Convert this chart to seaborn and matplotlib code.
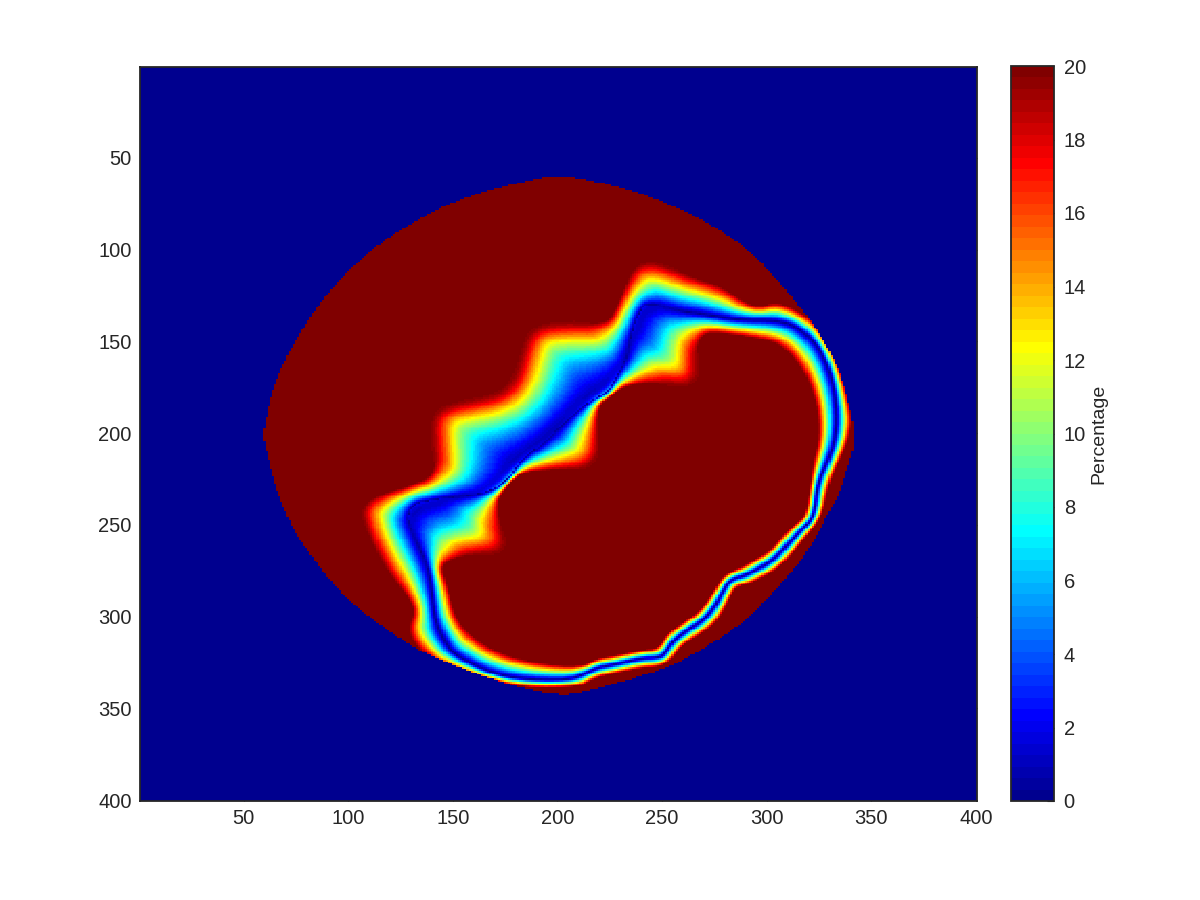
import numpy as np
import matplotlib
matplotlib.use("Agg")
import matplotlib.pyplot as plt
from matplotlib.colors import LinearSegmentedColormap
from matplotlib.path import Path
import seaborn as sns

# Contours, in image coordinates (column, row)
disc_x = [199.6, 218.7, 237.9, 260.2, 276.1, 292, 307.9, 322.3, 333.4, 339, 342.2, 341.4, 338.2, 335, 328.7, 319, 307.9, 290.4, 271.3, 255.4, 239.5, 212.2, 199.7, 174.2, 139.1, 118.4, 100.9, 91.3, 83.3, 75.4, 70.6, 66.6, 63.4, 61, 59.4, 61, 64.2, 69.8, 77, 85, 94.5, 105.6, 120, 134.3, 148.7, 164.6, 180.5]
disc_y = [59.4, 63, 68.4, 78.4, 88.4, 100.2, 120.2, 140.2, 162, 182, 200, 209.2, 220, 232.8, 245.5, 265.5, 281, 301.9, 316.4, 326.4, 332.7, 341.1, 342.7, 336.4, 321.8, 307.3, 291.9, 280, 268.3, 255.6, 244.6, 233.7, 221, 210, 201, 191, 174.7, 160.2, 145.7, 131.1, 118.4, 104.8, 93, 83, 74.8, 68.4, 63.9]

outer_x = [141.5, 141.5, 141.5, 151.8, 172.5, 180.5, 184.5, 188.5, 206, 223.5, 228.3, 234.7, 239.5, 249, 263.3, 279.3, 293.6, 304.8, 312.7, 322.1, 328.8, 335, 341, 340, 338, 335, 329.9, 326.7, 319.1, 314.6, 308.3, 302.4, 292.8, 285.6, 283.3, 279.3, 274.8, 266.9, 258.9, 254.6, 249, 239.5, 228.4, 220.3, 215.5, 210.8, 183.5, 164.4, 148.6, 139.1, 131.9, 128.3, 131.9, 128.7, 120, 112.8, 108, 106.4, 113.6, 127.9]
outer_y = [222.8, 203.8, 189.3, 184.7, 180.2, 171.1, 154.7, 142.9, 140.6, 140.2, 131.1, 113, 107.5, 107.5, 114.8, 120.2, 132, 128.4, 132, 138.4, 149.3, 164, 190, 200, 207, 214.6, 227.4, 245.5, 256.1, 262.8, 271, 276.1, 281.9, 283.7, 288.2, 297.3, 304.6, 310.6, 316.4, 323.6, 327.3, 328.2, 330.8, 332.8, 335, 338.4, 338.9, 333.5, 327.5, 322.8, 315.5, 306.4, 297.3, 290, 277.4, 262.8, 250, 241, 233.7, 229.2]

inner_x = [183.5, 205, 212.2, 219.4, 219.5, 219.5, 225.1, 234.7, 258, 264.9, 266, 266.5, 270.5, 285.6, 300, 308, 317.5, 323.9, 325.1, 322.3, 320.7, 318.6, 312.7, 307.9, 301.6, 296, 288, 279.3, 275.3, 271.3, 266.5, 260.2, 252.2, 248.2, 239.5, 228.4, 218.9, 210.8, 190.2, 172.5, 159.6, 151, 147.7, 144, 153.4, 165, 174, 173.8, 173.5, 171.1, 174, 178.8]
inner_y = [221.2, 219.6, 219.6, 213.1, 203.8, 185.6, 180.2, 172.9, 173, 172.9, 165, 152.9, 144.7, 146.6, 149.3, 153, 165.6, 183.8, 202, 214.6, 227.4, 245.5, 250.1, 255.5, 263.7, 267.7, 272.8, 277.3, 284.6, 291.9, 298.2, 302.8, 309.1, 317.3, 318.2, 320.9, 322.6, 327.5, 325.3, 319.9, 311.2, 300.3, 283.9, 271.5, 267.5, 265, 263.7, 258, 254.5, 238.1, 232.1, 225.6]

lane_x = [182.1, 195, 202.7, 215.6, 223.5, 228.3, 233.1, 235.5, 239.5, 244.2, 257, 268.1, 285.6, 304.8, 314.3, 323.9, 330.2, 333.4, 333.1, 329.5, 324.2, 322.6, 317.5, 311.1, 304.8, 299.2, 290.4, 282.5, 279.3, 275.3, 270.5, 263.4, 255.4, 251.4, 249, 239.5, 228.4, 220.3, 214.1, 206, 180.7, 164.4, 150.1, 147.1, 141.5, 139.9, 138.3, 132.7, 128, 131.1, 137.7, 150, 164.4, 171.1, 177.3]
lane_y = [214.7, 203.8, 194.5, 182, 178.4, 169.3, 158.4, 145.6, 132.9, 129.3, 133, 134.8, 138.4, 138.4, 142, 151.1, 165.6, 183.8, 202, 214.6, 227.4, 245.5, 251.9, 259.2, 267.3, 271.9, 277.3, 280.1, 285.5, 294.6, 301, 306.4, 312.8, 320, 322.2, 322.7, 325.9, 327.5, 330.5, 334.6, 334, 329.1, 319.9, 315.5, 302.8, 286.4, 273.7, 259.2, 246.5, 239.2, 237, 235, 232.7, 229.4, 224]

tick_values = [50, 100, 150, 200, 250, 300, 350, 400]
colorbar_ticks = [0, 2, 4, 6, 8, 10, 12, 14, 16, 18, 20]
v_min, v_max = 0, 20
n_cells = 400

plt.rcParams["font.family"] = ["Liberation Sans", "DejaVu Sans"]
sns.set_style("white")
plt.rcParams["font.family"] = ["Liberation Sans", "DejaVu Sans"]


def closed(xs, ys, rounds=2):
    """Closed contour with its traced corners rounded off."""
    p = np.column_stack([xs, ys])
    for _ in range(rounds):
        q = np.roll(p, -1, axis=0)
        p = np.column_stack([0.75 * p + 0.25 * q, 0.25 * p + 0.75 * q]).reshape(-1, 2)
    return np.vstack([p, p[:1]])


def distance_to(curve, pts):
    best = np.full(len(pts), np.inf)
    for a, b in zip(curve[:-1], curve[1:]):
        ab = b - a
        t = np.clip(((pts - a) @ ab) / (ab @ ab), 0, 1)
        d = np.hypot(*(pts - a - t[:, None] * ab).T)
        best = np.minimum(best, d)
    return best


def soften(field):
    kernel = np.exp(-0.5 * (np.arange(-6, 7) / 2.5) ** 2)
    kernel /= kernel.sum()
    out = np.apply_along_axis(np.convolve, 0, field, kernel, mode="same")
    return np.apply_along_axis(np.convolve, 1, out, kernel, mode="same")


disc, outer, inner, lane = (closed(disc_x, disc_y, 1), closed(outer_x, outer_y),
                            closed(inner_x, inner_y), closed(lane_x, lane_y))
cols, rows = np.meshgrid(np.arange(1, n_cells + 1), np.arange(1, n_cells + 1))
pts = np.column_stack([cols.ravel(), rows.ravel()]).astype(float)

in_disc = Path(disc).contains_points(pts)
in_outer = Path(outer).contains_points(pts)
in_inner = Path(inner).contains_points(pts)
in_lane = Path(lane).contains_points(pts)

d_lane = distance_to(lane, pts)
d_edge = np.where(in_lane, distance_to(inner, pts), distance_to(outer, pts))
width = d_lane + d_edge
steep = 1 + np.clip(width - 25, 0, None) / 12
share = d_lane / (d_lane + steep * d_edge + 1e-9)
field = v_max * np.where(in_outer & ~in_inner, share, 1.0)
field = field.reshape(n_cells, n_cells)
blend = np.clip((width.reshape(n_cells, n_cells) - 15) / 15, 0, 1)
padded = soften(np.pad(field, 6, constant_values=v_max))[6:-6, 6:-6]
field = blend * padded + (1 - blend) * field
values = np.where(in_disc.reshape(n_cells, n_cells), field, v_min)

jet = LinearSegmentedColormap.from_list(
    "matlab_jet",
    [(0, (0, 0, 0.5625)), (7 / 63, (0, 0, 1)), (23 / 63, (0, 1, 1)),
     (39 / 63, (1, 1, 0)), (55 / 63, (1, 0, 0)), (1, (0.5, 0, 0))],
    N=64,
)

fig = plt.figure(figsize=(12, 9), dpi=100)
W, H = 1200, 900
ax = fig.add_axes([140 / W, 1 - 801 / H, 837 / W, 734 / H])
cax = fig.add_axes([1011 / W, 1 - 801 / H, 43 / W, 735 / H])

sns.heatmap(values, ax=ax, cbar_ax=cax, cmap=jet, vmin=v_min, vmax=v_max,
            xticklabels=False, yticklabels=False,
            cbar_kws={"ticks": colorbar_ticks})

dark = "#262626"
positions = [v - 0.5 for v in tick_values]
ax.set_xticks(positions)
ax.set_xticklabels(tick_values)
ax.set_yticks(positions)
ax.set_yticklabels(tick_values, rotation=0)
ax.tick_params(axis="both", direction="in", length=5, width=0.8, color=dark,
               labelcolor=dark, labelsize=14.5, top=True, right=True,
               bottom=True, left=True, pad=6)
for s in ax.spines.values():
    s.set_visible(True)
    s.set_color(dark)
    s.set_linewidth(1.3)

cbar = ax.collections[0].colorbar
cbar.outline.set_visible(True)
cbar.outline.set_edgecolor(dark)
cbar.outline.set_linewidth(1.3)
cax.tick_params(axis="y", direction="in", length=5, width=0.8, color=dark,
                labelcolor=dark, labelsize=14.5, right=True, left=False, pad=7)
cbar.set_label("Percentage", fontsize=14, color=dark, labelpad=3)

fig.savefig("out.png", dpi=100, facecolor="white")
